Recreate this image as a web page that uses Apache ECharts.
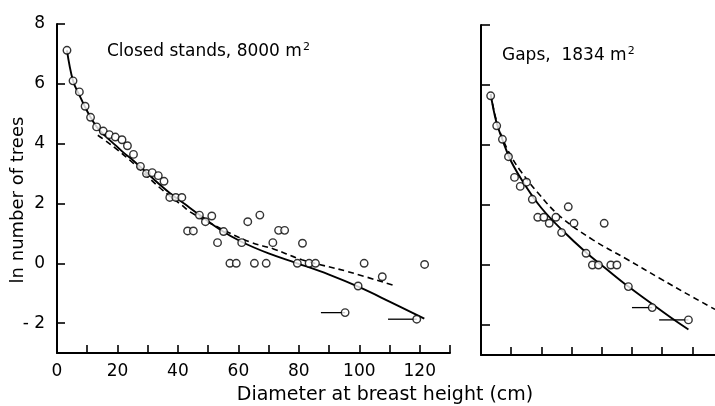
<!DOCTYPE html>
<html><head><meta charset="utf-8">
<script src="https://cdn.jsdelivr.net/npm/echarts@6/dist/echarts.min.js"></script>
<style>html,body{margin:0;padding:0;background:#fff}#c{width:715px;height:406px}</style>
</head><body><div id="c"></div>
<script>
// ---- Closed stands (left panel) ----
const closedD  = [3.3,5.3,7.4,9.3,11.1,13.1,15.3,17.3,19.3,21.5,23.3,25.3,27.6,29.6,31.5,33.5,35.4,37.3,39.3,41.3,43.2,45.1,47.1,49.1,51.2,53.1,55.1,57.2,59.3,61.1,63.1,65.3,67.1,69.2,71.4,73.3,75.3,79.5,81.2,83.4,85.5,95.3,99.6,101.6,107.6,119.0,121.6];
const closedLn = [7.12,6.10,5.73,5.25,4.88,4.56,4.42,4.30,4.22,4.13,3.93,3.64,3.24,3.00,3.03,2.93,2.74,2.20,2.20,2.20,1.08,1.08,1.61,1.39,1.58,0.69,1.06,0,0,0.69,1.39,0,1.61,0,0.69,1.10,1.10,0,0.67,0,0,-1.65,-0.76,0,-0.45,-1.87,-0.04];
const closedSolidD  = [3.3,5.3,7.4,9.3,11.1,13.2,16,19.3,22,25.4,31,37.3,42.4,47.1,54,61,70,79.5,90,100,110,121.5];
const closedSolidLn = [7.12,6.10,5.62,5.22,4.88,4.55,4.25,3.95,3.70,3.42,2.90,2.35,1.97,1.62,1.12,0.72,0.33,0.0,-0.38,-0.80,-1.28,-1.85];
const closedDashD  = [13.5,16,19.3,25.4,34.3,41.8,44,53,63.8,71.6,81,96.6,112];
const closedDashLn = [4.28,4.10,3.85,3.33,2.50,1.90,1.72,1.22,0.71,0.48,0.12,-0.29,-0.76];
const closedBarFrom = [87.3, 109.5];
const closedBarTo   = [95.3, 119.0];
const closedBarLn   = [-1.65, -1.87];

// ---- Gaps (right panel) ----
const gapsD  = [3.2,5.2,7.1,9.1,11.1,13.0,15.1,17.0,18.8,20.8,22.6,24.8,26.7,28.9,30.8,34.8,36.9,38.9,40.8,43.0,45.0,48.8,56.7,68.7];
const gapsLn = [5.64,4.64,4.19,3.61,2.92,2.62,2.76,2.19,1.59,1.59,1.39,1.59,1.08,1.94,1.39,0.39,0,0,1.39,0,0,-0.72,-1.42,-1.83];
const gapsSolidD  = [3.2,5,7,10,15,20,26.5,35,40.5,48.8,56,63.7,68.7];
const gapsSolidLn = [5.70,4.80,4.20,3.45,2.60,1.90,1.20,0.40,-0.05,-0.72,-1.25,-1.81,-2.15];
const gapsDashD  = [3.2,5,7,10,13.3,18.9,26.2,37.2,48.2,59.3,70.3,77.5];
const gapsDashLn = [5.70,4.85,4.25,3.62,3.11,2.40,1.62,0.83,0.20,-0.45,-1.08,-1.48];
const gapsBarFrom = [50.0, 59.0];
const gapsBarTo   = [56.7, 68.7];
const gapsBarLn   = [-1.42, -1.83];

// ---- axes ----
const yTicks = [-2,0,2,4,6,8];
const closedXLabels = [0,20,40,60,80,100,120];
const gapsXTicks = [10,20,30,40,50,60,70];

const zip = (a,b) => a.map((v,i)=>[v,b[i]]);
const bars = (f,t,y) => f.map((v,i)=>[v,t[i],y[i]]);
const FONT = 'DejaVu Sans';

function barSeries(idx, data){
  return {type:'custom', xAxisIndex:idx, yAxisIndex:idx, data:data, z:3,
    encode:{x:[0,1], y:2},
    renderItem:function(params, api){
      const p1 = api.coord([api.value(0), api.value(2)]);
      const p2 = api.coord([api.value(1), api.value(2)]);
      return {type:'line', shape:{x1:p1[0],y1:p1[1],x2:p2[0],y2:p2[1]}, style:{stroke:'#000', lineWidth:1.3}};
    }};
}
function pts(idx, data){
  return {type:'scatter', xAxisIndex:idx, yAxisIndex:idx, data:data, symbol:'circle', symbolSize:7.5, z:5,
    itemStyle:{color:'#fff', borderColor:'#000', borderWidth:1.4}};
}
function curve(idx, data, dashed){
  return {type:'line', xAxisIndex:idx, yAxisIndex:idx, data:data, smooth:0.4, showSymbol:false, z:2,
    lineStyle:{color:'#000', width:dashed?1.6:1.9, type:dashed?[6,4]:'solid'}};
}
const axisLineStyle = {show:true, onZero:false, lineStyle:{color:'#000', width:2}};
const titleRich = {a:{fontFamily:FONT, fontSize:17, fontWeight:'normal', color:'#000'},
                   s:{fontFamily:FONT, fontSize:11, fontWeight:'normal', color:'#000', verticalAlign:'top', padding:[0,0,8,1]}};

const chart = echarts.init(document.getElementById('c'), null, {renderer:'canvas'});
chart.setOption({
  backgroundColor:'#fff',
  animation:false,
  title:[
    {text:'{a|Closed stands, 8000 m}{s|2}', left:102, top:37, textStyle:{fontWeight:'normal', rich:titleRich}},
    {text:'{a|Gaps,  1834 m}{s|2}', left:497, top:41, textStyle:{fontWeight:'normal', rich:titleRich}}
  ],
  graphic:[
    {type:'text', x:385, y:386, style:{text:'Diameter at breast height (cm)', fontFamily:FONT, fontSize:19, fill:'#000', align:'center', verticalAlign:'top'}},
    {type:'text', x:9, y:200, rotation:Math.PI/2,
     style:{text:'ln number of trees', fontFamily:FONT, fontSize:18, fill:'#000', align:'center', verticalAlign:'top'}}
  ],
  grid:[
    {left:57, top:24, width:393, height:329},
    {left:481, top:25, width:234, height:330}
  ],
  xAxis:[
    {gridIndex:0, type:'value', min:0, max:130, interval:10,
     axisLine:axisLineStyle, splitLine:{show:false},
     axisTick:{inside:true, length:8, lineStyle:{color:'#000', width:1.6}},
     axisLabel:{customValues:closedXLabels, margin:10, color:'#000', fontFamily:FONT, fontSize:17}},
    {gridIndex:1, type:'value', min:0, max:77.5,
     axisLine:axisLineStyle, splitLine:{show:false},
     axisTick:{inside:true, length:8, customValues:gapsXTicks, lineStyle:{color:'#000', width:1.6}},
     axisLabel:{show:false}}
  ],
  yAxis:[
    {gridIndex:0, type:'value', min:-3, max:8,
     axisLine:axisLineStyle, splitLine:{show:false},
     axisTick:{inside:true, length:8, customValues:yTicks, lineStyle:{color:'#000', width:1.6}},
     axisLabel:{customValues:yTicks, margin:12, color:'#000', fontFamily:FONT, fontSize:17,
       formatter:v=> v<0 ? '- '+Math.abs(v) : String(v)}},
    {gridIndex:1, type:'value', min:-3, max:8,
     axisLine:axisLineStyle, splitLine:{show:false},
     axisTick:{inside:true, length:9, customValues:yTicks, lineStyle:{color:'#000', width:1.6}},
     axisLabel:{show:false}}
  ],
  series:[
    curve(0, zip(closedSolidD, closedSolidLn), false),
    curve(0, zip(closedDashD, closedDashLn), true),
    barSeries(0, bars(closedBarFrom, closedBarTo, closedBarLn)),
    pts(0, zip(closedD, closedLn)),
    curve(1, zip(gapsSolidD, gapsSolidLn), false),
    curve(1, zip(gapsDashD, gapsDashLn), true),
    barSeries(1, bars(gapsBarFrom, gapsBarTo, gapsBarLn)),
    pts(1, zip(gapsD, gapsLn))
  ]
});
</script></body></html>
